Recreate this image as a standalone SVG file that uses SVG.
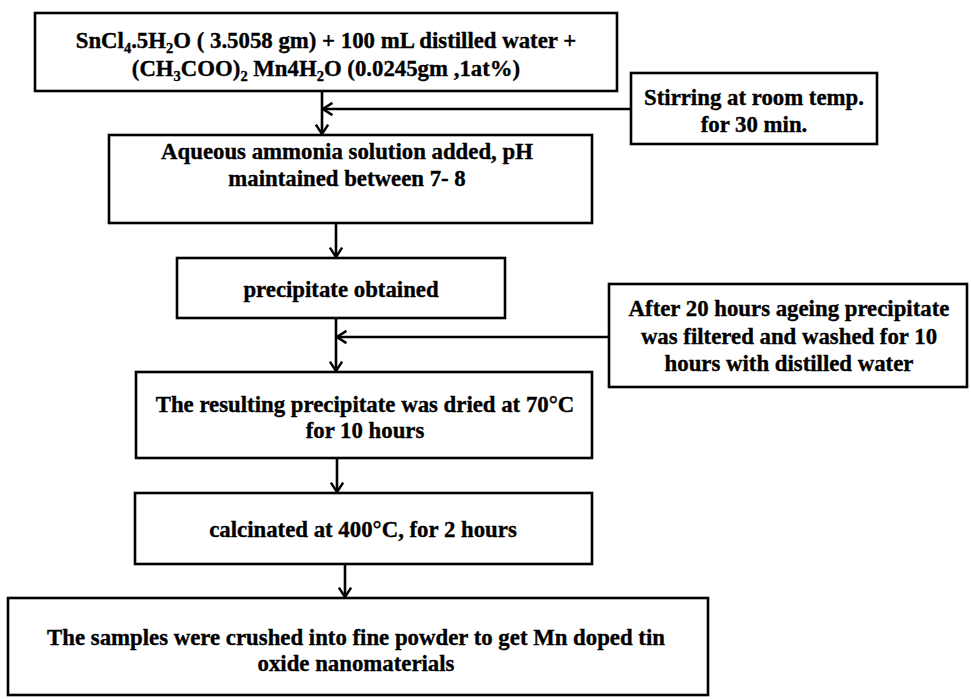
<svg xmlns="http://www.w3.org/2000/svg" width="971" height="699" viewBox="0 0 971 699">
<defs>
<style>
.box{fill:#fff;stroke:#000;stroke-width:2.6}
.t{font-family:"Liberation Serif","Times New Roman",serif;font-weight:bold;font-size:22.8px;fill:#000;stroke:#000;stroke-width:0.35;text-anchor:middle}
.sub{font-size:14.5px}
.c{stroke:#000;stroke-width:2.6;fill:none}
</style>
<marker id="ah" markerUnits="userSpaceOnUse" markerWidth="14" markerHeight="16" refX="10" refY="6.5" orient="auto" viewBox="-2 -2 14 17">
<path d="M0,0 L10,6.5 L0,13" fill="none" stroke="#000" stroke-width="2.6"/>
</marker>
</defs>
<rect width="971" height="699" fill="#fff"/>
<g id="connectors">
<line class="c" x1="322" y1="91" x2="322" y2="134" marker-end="url(#ah)"/>
<line class="c" x1="631" y1="109" x2="323" y2="109" marker-end="url(#ah)"/>
<line class="c" x1="336" y1="223" x2="336" y2="257" marker-end="url(#ah)"/>
<line class="c" x1="336" y1="318" x2="336" y2="371" marker-end="url(#ah)"/>
<line class="c" x1="609" y1="337" x2="337" y2="337" marker-end="url(#ah)"/>
<line class="c" x1="337" y1="458" x2="337" y2="492" marker-end="url(#ah)"/>
<line class="c" x1="345" y1="564" x2="345" y2="597" marker-end="url(#ah)"/>
</g>
<g id="n1">
<rect class="box" x="35" y="13" width="582" height="78"/>
<text class="t" x="326" y="48">SnCl<tspan class="sub" dy="5">4</tspan><tspan dy="-5">.5H</tspan><tspan class="sub" dy="5">2</tspan><tspan dy="-5">O ( 3.5058 gm) + 100 mL distilled water +</tspan></text>
<text class="t" x="326" y="76">(CH<tspan class="sub" dy="5">3</tspan><tspan dy="-5">COO)</tspan><tspan class="sub" dy="5">2</tspan><tspan dy="-5"> Mn4H</tspan><tspan class="sub" dy="5">2</tspan><tspan dy="-5">O (0.0245gm ,1at%)</tspan></text>
</g>
<g id="n2">
<rect class="box" x="631" y="73" width="246" height="71"/>
<text class="t" x="754" y="105">Stirring at room temp.</text>
<text class="t" x="754" y="132">for 30 min.</text>
</g>
<g id="n3">
<rect class="box" x="109" y="135" width="483" height="88"/>
<text class="t" x="347" y="159">Aqueous ammonia solution added, pH</text>
<text class="t" x="347" y="186">maintained between 7- 8</text>
</g>
<g id="n4">
<rect class="box" x="177" y="258" width="328" height="60"/>
<text class="t" x="341" y="297">precipitate obtained</text>
</g>
<g id="n5">
<rect class="box" x="609" y="284" width="358" height="103"/>
<text class="t" x="789" y="316">After 20 hours ageing precipitate</text>
<text class="t" x="789" y="344">was filtered and washed for 10</text>
<text class="t" x="789" y="371">hours with distilled water</text>
</g>
<g id="n6">
<rect class="box" x="136" y="372" width="456" height="86"/>
<text class="t" x="365" y="412">The resulting precipitate was dried at 70°C</text>
<text class="t" x="365" y="438">for 10 hours</text>
</g>
<g id="n7">
<rect class="box" x="135" y="493" width="457" height="71"/>
<text class="t" x="363" y="537">calcinated at 400°C, for 2 hours</text>
</g>
<g id="n8">
<rect class="box" x="8" y="598" width="700" height="97"/>
<text class="t" x="356" y="645">The samples were crushed into fine powder to get Mn doped tin</text>
<text class="t" x="356" y="671">oxide nanomaterials</text>
</g>
</svg>
